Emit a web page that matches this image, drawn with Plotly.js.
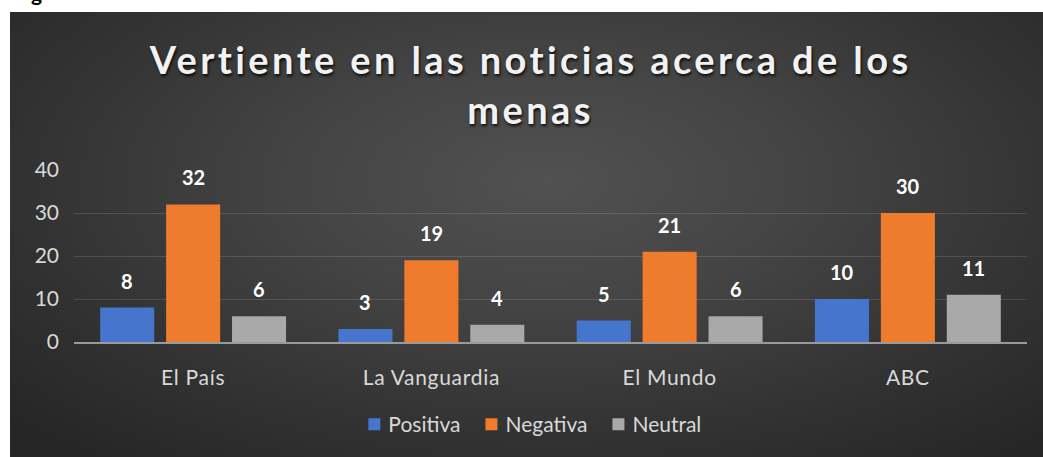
<!DOCTYPE html>
<html>
<head>
<meta charset="utf-8">
<script src="https://cdn.plot.ly/plotly-3.0.1.min.js"></script>
<style>
  html, body { margin: 0; padding: 0; background: #ffffff; width: 1043px; height: 457px; overflow: hidden; }
  #cap { position: absolute; left: 31px; top: -18px; font-family: Lato, "Liberation Sans", sans-serif; font-weight: bold; font-size: 21px; line-height: 21px; color: #000; z-index: 0; }
  #chart { position: absolute; left: 10px; top: 12px; width: 1033px; height: 445px; z-index: 1;
    background: radial-gradient(ellipse 70% 80% at 52% 38%, #515151 0%, #444444 35%, #333333 70%, #262626 100%); }
  .gtitle { letter-spacing: 3.4px; }
  .xtick text { letter-spacing: 0.7px; }
  .legendtext { transform: translateX(-6px); }
</style>
</head>
<body>
<span id="cap">g</span>
<div id="chart"></div>
<script>
const categories = ["El País", "La Vanguardia", "El Mundo", "ABC"];
const seriesNames = ["Positiva", "Negativa", "Neutral"];
const positiva = [8, 3, 5, 10];
const negativa = [32, 19, 21, 30];
const neutral = [6, 4, 6, 11];
const yTicks = [0, 10, 20, 30, 40];
const titleText = "Vertiente en las noticias acerca de los<br>menas";

const seriesValues = [positiva, negativa, neutral];
const colors = ["#4575cc", "#ef7b2c", "#a9a9a9"];
const font = "Lato, 'Liberation Sans', sans-serif";

const traces = seriesValues.map((vals, i) => ({
  type: "bar",
  name: seriesNames[i],
  x: categories,
  y: vals,
  marker: { color: colors[i] },
  hoverinfo: "skip"
}));

const shifts = [-66, 0, 66];
const annotations = [];
seriesValues.forEach((vals, i) => {
  vals.forEach((v, j) => {
    annotations.push({
      x: categories[j], y: v, xref: "x", yref: "y",
      text: String(v), showarrow: false,
      xshift: shifts[i], yshift: 13, yanchor: "bottom",
      font: { family: font, size: 20, color: "#ffffff", weight: "bold" }
    });
  });
});

const layout = {
  width: 1033, height: 445,
  paper_bgcolor: "rgba(0,0,0,0)",
  plot_bgcolor: "rgba(0,0,0,0)",
  margin: { l: 64, r: 16, t: 158, b: 115 },
  title: {
    text: titleText,
    x: 0.504, xanchor: "center",
    y: 0.86, yanchor: "top", yref: "container",
    font: { family: font, size: 38, color: "#f2f2f2", weight: "bold", shadow: "1px 2px 3px rgba(0,0,0,0.85)" }
  },
  barmode: "group",
  bargap: 0.17,
  bargroupgap: 0.18,
  xaxis: {
    showline: true, linecolor: "#9a9a9a", linewidth: 2,
    showgrid: false, ticks: "",
    ticklabelstandoff: 16,
    tickfont: { family: font, size: 21, color: "#d9d9d9" },
    fixedrange: true
  },
  yaxis: {
    range: [0, 40],
    tickvals: yTicks,
    showgrid: true, gridcolor: "rgba(255,255,255,0.13)", gridwidth: 1,
    zeroline: false, showline: false, ticks: "",
    ticklabelstandoff: 14,
    tickfont: { family: font, size: 21, color: "#d9d9d9" },
    fixedrange: true
  },
  showlegend: true,
  legend: {
    orientation: "h",
    x: 0.482, xanchor: "center",
    y: -0.48, yanchor: "middle",
    font: { family: font, size: 21, color: "#d9d9d9" },
    bgcolor: "rgba(0,0,0,0)",
    itemwidth: 30
  },
  annotations: annotations
};

Plotly.newPlot("chart", traces, layout, { displayModeBar: false, staticPlot: true });
</script>
</body>
</html>
